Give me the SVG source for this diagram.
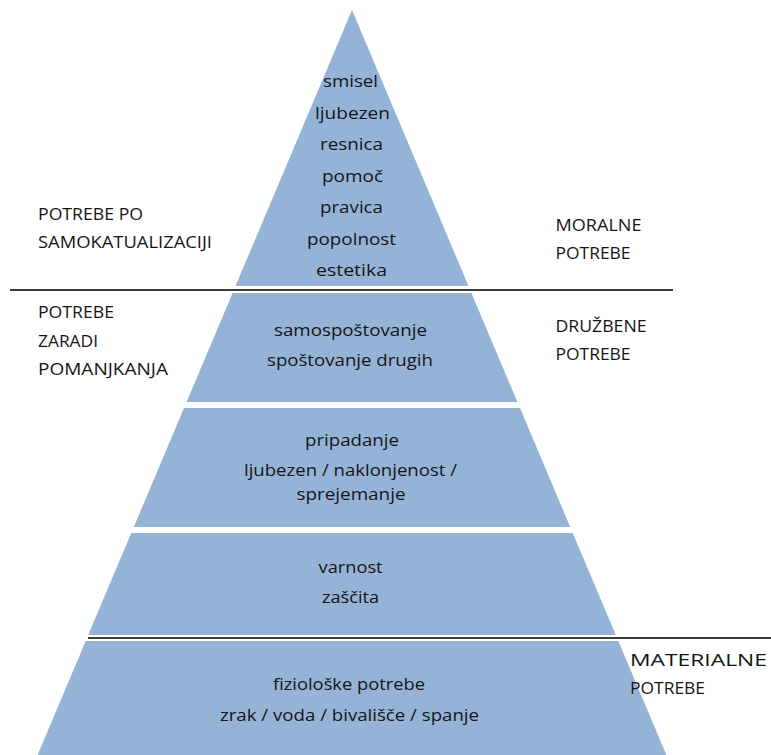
<svg xmlns="http://www.w3.org/2000/svg" width="771" height="755" viewBox="0 0 771 755">
  <style>
    .band { fill: #95B3D7; }
    .t { font-family: "Open Sans", "Liberation Sans", sans-serif; font-size: 16px; fill: #151515; }
    .div { stroke: #3c3c3c; stroke-width: 2; fill: none; }
  </style>
  <rect width="771" height="755" fill="#ffffff"/>

  <g id="level-1-self-actualization">
    <polygon class="band" points="352,10 468.5,286 235.5,286"/>
    <text class="t" x="323" y="87" textLength="55" lengthAdjust="spacingAndGlyphs">smisel</text>
    <text class="t" x="315" y="119" textLength="75" lengthAdjust="spacingAndGlyphs">ljubezen</text>
    <text class="t" x="320" y="150" textLength="63" lengthAdjust="spacingAndGlyphs">resnica</text>
    <text class="t" x="322" y="182" textLength="61" lengthAdjust="spacingAndGlyphs">pomoč</text>
    <text class="t" x="320" y="213" textLength="63" lengthAdjust="spacingAndGlyphs">pravica</text>
    <text class="t" x="307" y="245" textLength="89" lengthAdjust="spacingAndGlyphs">popolnost</text>
    <text class="t" x="316" y="276" textLength="71" lengthAdjust="spacingAndGlyphs">estetika</text>
  </g>

  <g id="level-2-esteem">
    <polygon class="band" points="232.6,293 471.4,293 517.4,402 186.6,402"/>
    <text class="t" x="274" y="335.5" textLength="153" lengthAdjust="spacingAndGlyphs">samospoštovanje</text>
    <text class="t" x="267" y="366" textLength="166" lengthAdjust="spacingAndGlyphs">spoštovanje drugih</text>
  </g>

  <g id="level-3-belonging">
    <polygon class="band" points="184,408 520,408 570.2,527 133.8,527"/>
    <text class="t" x="305" y="446" textLength="94" lengthAdjust="spacingAndGlyphs">pripadanje</text>
    <text class="t" x="244" y="476" textLength="213" lengthAdjust="spacingAndGlyphs">ljubezen / naklonjenost /</text>
    <text class="t" x="296.5" y="499.5" textLength="109" lengthAdjust="spacingAndGlyphs">sprejemanje</text>
  </g>

  <g id="level-4-safety">
    <polygon class="band" points="131.3,533 572.7,533 615.8,635 88.2,635"/>
    <text class="t" x="318.6" y="572.5" textLength="64" lengthAdjust="spacingAndGlyphs">varnost</text>
    <text class="t" x="322" y="602.5" textLength="57" lengthAdjust="spacingAndGlyphs">zaščita</text>
  </g>

  <g id="level-5-physiological">
    <polygon class="band" points="85.7,641 618.3,641 666.4,755 37.6,755"/>
    <text class="t" x="273" y="689.5" textLength="152" lengthAdjust="spacingAndGlyphs">fiziološke potrebe</text>
    <text class="t" x="220" y="720.5" textLength="259" lengthAdjust="spacingAndGlyphs">zrak / voda / bivališče / spanje</text>
  </g>

  <g id="label-self-actualization">
    <text class="t" x="38" y="220" textLength="105" lengthAdjust="spacingAndGlyphs">POTREBE PO</text>
    <text class="t" x="38" y="248" textLength="174" lengthAdjust="spacingAndGlyphs">SAMOKATUALIZACIJI</text>
  </g>

  <g id="label-deficiency">
    <text class="t" x="38" y="317.5" textLength="76" lengthAdjust="spacingAndGlyphs">POTREBE</text>
    <text class="t" x="38" y="346.5" textLength="60" lengthAdjust="spacingAndGlyphs">ZARADI</text>
    <text class="t" x="38" y="375" textLength="130" lengthAdjust="spacingAndGlyphs">POMANJKANJA</text>
  </g>

  <g id="label-moral">
    <text class="t" x="555.5" y="231" textLength="86" lengthAdjust="spacingAndGlyphs">MORALNE</text>
    <text class="t" x="555.5" y="259" textLength="75" lengthAdjust="spacingAndGlyphs">POTREBE</text>
  </g>

  <g id="label-social">
    <text class="t" x="555.5" y="331.5" textLength="91" lengthAdjust="spacingAndGlyphs">DRUŽBENE</text>
    <text class="t" x="555.5" y="360" textLength="75" lengthAdjust="spacingAndGlyphs">POTREBE</text>
  </g>

  <g id="label-material">
    <text class="t" x="630" y="666" textLength="137" lengthAdjust="spacingAndGlyphs">MATERIALNE</text>
    <text class="t" x="630" y="694" textLength="75" lengthAdjust="spacingAndGlyphs">POTREBE</text>
  </g>

  <g id="connectors">
    <line class="div" x1="10" y1="290" x2="673" y2="290"/>
    <line class="div" x1="88" y1="638" x2="771" y2="638"/>
  </g>
</svg>
